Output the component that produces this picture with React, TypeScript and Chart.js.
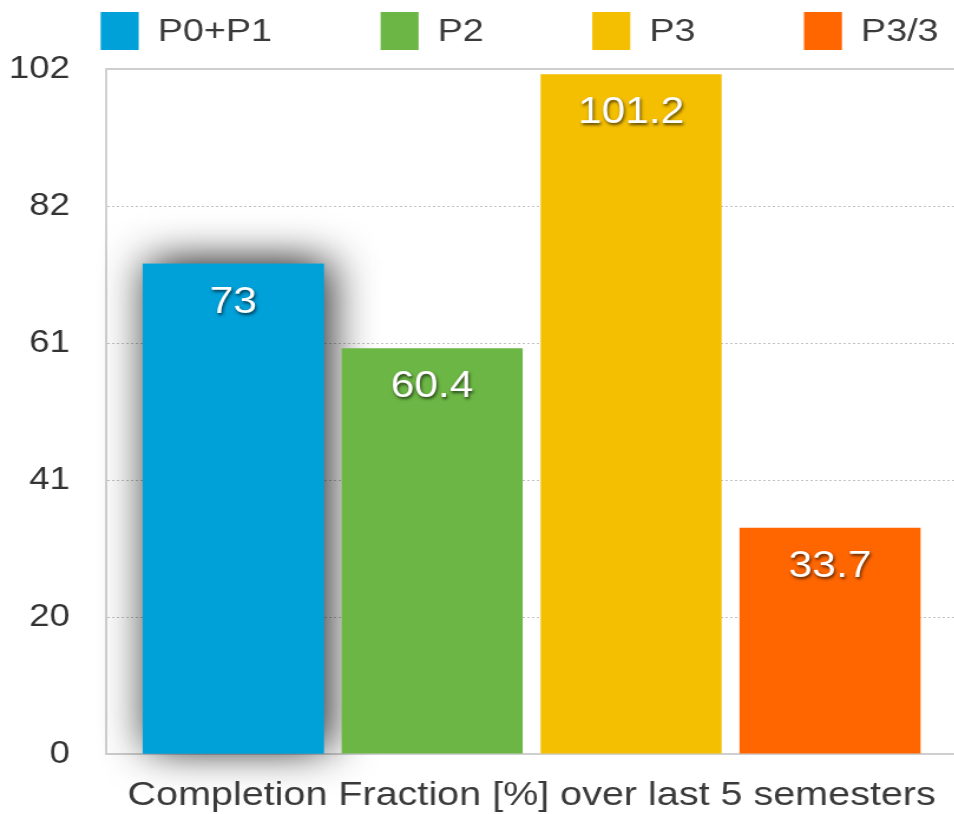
import { useEffect, useRef } from "react";
import { Chart, registerables } from "chart.js";

Chart.register(...registerables);

// ---- data ----
const categories = ["Completion Fraction [%] over last 5 semesters"];
const seriesLabels = ["P0+P1", "P2", "P3", "P3/3"];
const seriesValues = [73, 60.4, 101.2, 33.7];
const seriesColors = ["#00a0d8", "#6cb645", "#f4bf00", "#ff6600"];
const yTickLabels = ["0", "20", "41", "61", "82", "102"];
const yMax = 102;

// ---- layout (the reference looks horizontally stretched) ----
const STRETCH = 1.18;
const CSS_W = 1044;
const CSS_H = 814;
const CANVAS_W = Math.round(CSS_W / STRETCH);
const FONT = '"Liberation Sans", Arial, Helvetica, sans-serif';
const TEXT = "#3a3a3a";

const legendPlugin = {
  id: "customLegend",
  afterDraw(chart: any) {
    const ctx = chart.ctx;
    const ds = chart.data.datasets;
    const boxW = 38 / STRETCH;
    const boxH = 38;
    const gap = 19 / STRETCH;
    const pad = 92;
    ctx.save();
    ctx.font = `32px ${FONT}`;
    const widths = ds.map((d: any) => boxW + gap + ctx.measureText(d.label).width);
    const total = widths.reduce((a: number, b: number) => a + b, 0) + pad * (ds.length - 1);
    let x = chart.width / 2 - total / 2 - 2;
    const top = 12;
    ds.forEach((d: any, i: number) => {
      ctx.fillStyle = d.backgroundColor;
      ctx.fillRect(x, top, boxW, boxH);
      ctx.fillStyle = TEXT;
      ctx.textBaseline = "middle";
      ctx.textAlign = "left";
      ctx.fillText(d.label, x + boxW + gap, top + boxH / 2 + 1);
      x += widths[i] + pad;
    });
    ctx.restore();
  },
};

const shadowPlugin = {
  id: "barShadow",
  beforeDatasetsDraw(chart: any) {
    const meta = chart.getDatasetMeta(0);
    const el = meta.data[0];
    if (!el) return;
    const { x, y, base, width } = el.getProps(["x", "y", "base", "width"], true);
    const ctx = chart.ctx;
    ctx.save();
    ctx.shadowColor = "rgba(0,0,0,0.9)";
    ctx.shadowBlur = 38;
    ctx.shadowOffsetX = 5;
    ctx.shadowOffsetY = -4;
    ctx.fillStyle = chart.data.datasets[0].backgroundColor;
    ctx.fillRect(x - width / 2, y, width, base - y);
    ctx.restore();
  },
};

const valueLabelPlugin = {
  id: "valueLabels",
  afterDatasetsDraw(chart: any) {
    const ctx = chart.ctx;
    ctx.save();
    ctx.font = `36px ${FONT}`;
    ctx.textAlign = "center";
    ctx.textBaseline = "middle";
    chart.data.datasets.forEach((d: any, i: number) => {
      const meta = chart.getDatasetMeta(i);
      meta.data.forEach((el: any, j: number) => {
        const { x, y } = el.getProps(["x", "y"], true);
        ctx.shadowColor = "rgba(0,0,0,0.65)";
        ctx.shadowBlur = 3;
        ctx.shadowOffsetX = 1;
        ctx.shadowOffsetY = 2;
        ctx.fillStyle = "#ffffff";
        ctx.fillText(String(d.data[j]), x, y + 39);
      });
    });
    ctx.restore();
  },
};

export default function App() {
  const canvasRef = useRef<HTMLCanvasElement | null>(null);

  useEffect(() => {
    const canvas = canvasRef.current;
    if (!canvas) return;
    const chart = new Chart(canvas, {
      type: "bar",
      data: {
        labels: categories,
        datasets: seriesLabels.map((label, i) => ({
          label,
          data: [seriesValues[i]],
          backgroundColor: seriesColors[i],
          borderWidth: 0,
          barPercentage: 0.91,
          categoryPercentage: 0.936,
        })),
      },
      options: {
        responsive: false,
        animation: false,
        devicePixelRatio: 1,
        layout: { padding: { top: 69, right: 74, bottom: 1.5, left: 0 } },
        plugins: {
          legend: { display: false },
          tooltip: { enabled: false },
        },
        scales: {
          x: {
            type: "category",
            afterFit(scale: any) {
              scale.height = 58.5;
            },
            grid: { display: false, drawTicks: false },
            border: { display: true, color: "#cfcfcf", width: 2 },
            ticks: {
              color: TEXT,
              padding: 25.5,
              maxRotation: 0,
              minRotation: 0,
              autoSkip: false,
              font: { family: FONT, size: 33.5, lineHeight: 1 },
            },
          },
          x2: {
            type: "category",
            position: "top",
            labels: categories,
            grid: { display: false, drawTicks: false },
            ticks: { display: false },
            border: { display: true, color: "#cfcfcf", width: 2 },
          },
          y: {
            min: 0,
            max: yMax,
            afterFit(scale: any) {
              scale.width = 90.3;
            },
            ticks: {
              stepSize: yMax / 5,
              color: "#333333",
              padding: 31,
              font: { family: FONT, size: 31 },
              callback: (_v: any, i: number) => yTickLabels[i],
            },
            grid: { color: "#c2c2c2", lineWidth: 1, drawTicks: false },
            border: { display: true, color: "#d0d0d0", width: 2, dash: [2, 2] },
          },
        },
      },
      plugins: [shadowPlugin, valueLabelPlugin, legendPlugin],
    });
    return () => chart.destroy();
  }, []);

  return (
    <div
      style={{
        position: "fixed",
        left: 0,
        top: 0,
        width: 954,
        height: CSS_H,
        overflow: "hidden",
        background: "#ffffff",
      }}
    >
      <canvas
        ref={canvasRef}
        width={CANVAS_W}
        height={CSS_H}
        style={{ width: CSS_W, height: CSS_H, display: "block" }}
      />
    </div>
  );
}
